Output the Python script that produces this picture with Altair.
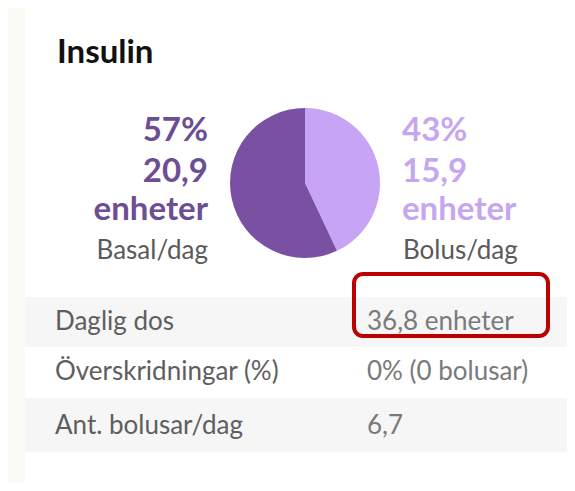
import altair as alt
import pandas as pd

# ---- data ----
slice_names = ["Bolus/dag", "Basal/dag"]
slice_share = [43, 57]
slice_order = [0, 1]
slice_colors = ["#c7a4f4", "#7a50a2"]

left_lines = ["57%", "20,9", "enheter"]
right_lines = ["43%", "15,9", "enheter"]
left_caption = "Basal/dag"
right_caption = "Bolus/dag"

table_labels = ["Daglig dos", "Överskridningar (%)", "Ant. bolusar/dag"]
table_values = ["36,8 enheter", "0% (0 bolusar)", "6,7"]
title_text = "Insulin"

W, H = 559, 475
FONT = "Lato"
BOLD_SIZE = 33
REG_SIZE = 26

pie_df = pd.DataFrame({"name": slice_names, "share": slice_share, "ord": slice_order})

layers = []

# card background
layers.append(
    alt.Chart(pd.DataFrame({"a": [0]})).mark_rect(color="#ffffff").encode(
        x=alt.value(17), x2=alt.value(W), y=alt.value(0), y2=alt.value(H)
    )
)

# table row bands
band_tops = [289, 339, 390]
band_bots = [339, 390, 444]
band_cols = ["#f6f6f6", "#ffffff", "#f6f6f6"]
for t, b, c in zip(band_tops, band_bots, band_cols):
    layers.append(
        alt.Chart(pd.DataFrame({"a": [0]})).mark_rect(color=c).encode(
            x=alt.value(17), x2=alt.value(W), y=alt.value(t), y2=alt.value(b)
        )
    )

# title
layers.append(
    alt.Chart(pd.DataFrame({"t": [title_text]})).mark_text(
        font=FONT, fontSize=33, fontWeight="bold", color="#111111",
        align="left", baseline="alphabetic"
    ).encode(text="t:N", x=alt.value(49), y=alt.value(55))
)

# pie
layers.append(
    alt.Chart(pie_df).mark_arc(outerRadius=75).encode(
        theta=alt.Theta("share:Q", stack=True),
        order=alt.Order("ord:Q"),
        color=alt.Color("name:N", scale=alt.Scale(domain=slice_names, range=slice_colors), legend=None),
        x=alt.value(297), y=alt.value(175),
    )
)

line_y = [133, 174, 212]
for txt, yy in zip(left_lines, line_y):
    layers.append(
        alt.Chart(pd.DataFrame({"t": [txt]})).mark_text(
            font=FONT, fontSize=BOLD_SIZE, fontWeight="bold", color="#6c4e95",
            align="right", baseline="alphabetic"
        ).encode(text="t:N", x=alt.value(200), y=alt.value(yy))
    )
for txt, yy in zip(right_lines, line_y):
    layers.append(
        alt.Chart(pd.DataFrame({"t": [txt]})).mark_text(
            font=FONT, fontSize=BOLD_SIZE, fontWeight="bold", color="#c6a7ef",
            align="left", baseline="alphabetic"
        ).encode(text="t:N", x=alt.value(394), y=alt.value(yy))
    )
layers.append(
    alt.Chart(pd.DataFrame({"t": [left_caption]})).mark_text(
        font=FONT, fontSize=REG_SIZE, color="#5a5a5a", align="right", baseline="alphabetic"
    ).encode(text="t:N", x=alt.value(200), y=alt.value(251))
)
layers.append(
    alt.Chart(pd.DataFrame({"t": [right_caption]})).mark_text(
        font=FONT, fontSize=REG_SIZE, color="#5a5a5a", align="left", baseline="alphabetic"
    ).encode(text="t:N", x=alt.value(395), y=alt.value(251))
)

# table text
row_y = [322, 372, 426]
for lab, val, yy in zip(table_labels, table_values, row_y):
    layers.append(
        alt.Chart(pd.DataFrame({"t": [lab]})).mark_text(
            font=FONT, fontSize=REG_SIZE, color="#5e5e5e", align="left", baseline="alphabetic"
        ).encode(text="t:N", x=alt.value(47), y=alt.value(yy))
    )
    layers.append(
        alt.Chart(pd.DataFrame({"t": [val]})).mark_text(
            font=FONT, fontSize=REG_SIZE, color="#7a7a7a", align="left", baseline="alphabetic"
        ).encode(text="t:N", x=alt.value(359), y=alt.value(yy))
    )

# red annotation box
layers.append(
    alt.Chart(pd.DataFrame({"a": [0]})).mark_rect(
        fill=None, fillOpacity=0, stroke="#bb0000", strokeWidth=4, cornerRadius=9
    ).encode(x=alt.value(346), x2=alt.value(540), y=alt.value(266), y2=alt.value(328))
)

chart = alt.layer(*layers).properties(
    width=W, height=H, padding=0, autosize=alt.AutoSizeParams(type="none"),
    background="#fcfaf5",
).configure_view(stroke=None)

chart.save("out.html", embed_options={"renderer": "svg", "actions": False})
